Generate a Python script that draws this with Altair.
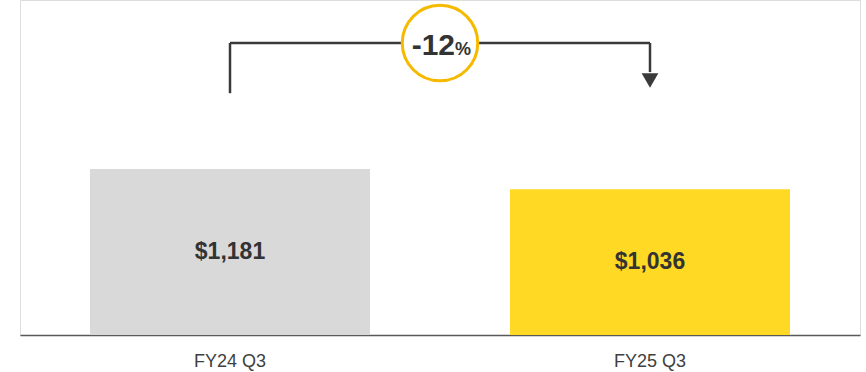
import altair as alt
import pandas as pd

# ---- data ----
periods = ["FY24 Q3", "FY25 Q3"]
values = [1181, 1036]
labels = ["$1,181", "$1,036"]
bar_colors = ["#D9D9D9", "#FFD923"]
change_text = "-12"
change_unit = "%"

# connector levels in data units
bracket_top = 2077
left_leg_bottom = 1720
right_leg_bottom = 1870
arrow_level = 1810
y_max = 2383

bars = pd.DataFrame({"period": periods, "value": values, "label": labels,
                     "mid": [v / 2 for v in values]})

x = alt.X("period:N", sort=periods,
          scale=alt.Scale(paddingInner=0, paddingOuter=0),
          axis=alt.Axis(title=None, labelAngle=0, ticks=False, domain=True,
                        domainColor="#595959", domainWidth=1.5,
                        labelFontSize=18, labelColor="#404040",
                        labelFont="Liberation Sans", labelPadding=17))
y_scale = alt.Scale(domain=[0, y_max], nice=False)
y = alt.Y("value:Q", scale=y_scale, axis=None)

bar_layer = alt.Chart(bars).mark_bar(width=alt.RelativeBandSize(2 / 3)).encode(
    x=x, y=y,
    color=alt.Color("period:N", scale=alt.Scale(domain=periods, range=bar_colors), legend=None),
)

val_text = alt.Chart(bars).mark_text(fontSize=23, fontWeight="bold", color="#333333",
                                     font="Liberation Sans").encode(
    x=alt.X("period:N", sort=periods), y=alt.Y("mid:Q", scale=y_scale), text="label:N")

line_color = "#3A3A3A"

# horizontal bracket
hdf = pd.DataFrame({"a": [periods[0]], "b": [periods[1]], "y": [bracket_top]})
hline = alt.Chart(hdf).mark_rule(color=line_color, strokeWidth=2.5).encode(
    x=alt.X("a:N", sort=periods), x2="b:N", y=alt.Y("y:Q", scale=y_scale))

# legs
legs = pd.DataFrame({"period": periods, "y1": [left_leg_bottom, right_leg_bottom],
                     "y2": [bracket_top, bracket_top]})
vlines = alt.Chart(legs).mark_rule(color=line_color, strokeWidth=2.5).encode(
    x=alt.X("period:N", sort=periods), y=alt.Y("y1:Q", scale=y_scale), y2="y2:Q")

# arrow head
adf = pd.DataFrame({"period": [periods[1]], "y": [arrow_level]})
arrow = alt.Chart(adf).mark_point(shape="triangle-down", filled=True, size=280,
                                  color=line_color, opacity=1).encode(
    x=alt.X("period:N", sort=periods), y=alt.Y("y:Q", scale=y_scale))

# circle badge between bars
cdf = pd.DataFrame({"period": [periods[0]], "y": [bracket_top], "t": [change_text], "u": [change_unit]})
circle = alt.Chart(cdf).mark_point(shape="circle", size=5700, filled=False, fill="white",
                                   fillOpacity=1, stroke="#F5BA00", strokeWidth=3,
                                   opacity=1).encode(
    x=alt.X("period:N", sort=periods, bandPosition=1), y=alt.Y("y:Q", scale=y_scale))
ctext = alt.Chart(cdf).mark_text(fontSize=30, fontWeight="bold", color="#333333",
                                 font="Liberation Sans", align="right", baseline="alphabetic",
                                 dx=15, dy=12).encode(
    x=alt.X("period:N", sort=periods, bandPosition=1), y=alt.Y("y:Q", scale=y_scale), text="t:N")
utext = alt.Chart(cdf).mark_text(fontSize=18, fontWeight="bold", color="#333333",
                                 font="Liberation Sans", align="left", baseline="alphabetic",
                                 dx=15, dy=12).encode(
    x=alt.X("period:N", sort=periods, bandPosition=1), y=alt.Y("y:Q", scale=y_scale), text="u:N")

chart = alt.layer(bar_layer, val_text, hline, vlines, arrow, circle, ctext, utext).properties(
    width=840, height=335,
    autosize=alt.AutoSizeParams(type="none"),
    padding={"left": 20, "top": 0, "right": 6, "bottom": 37},
).configure_view(strokeWidth=0).configure(background="white")

chart.save("out.html", embed_options={"renderer": "svg", "actions": False})
